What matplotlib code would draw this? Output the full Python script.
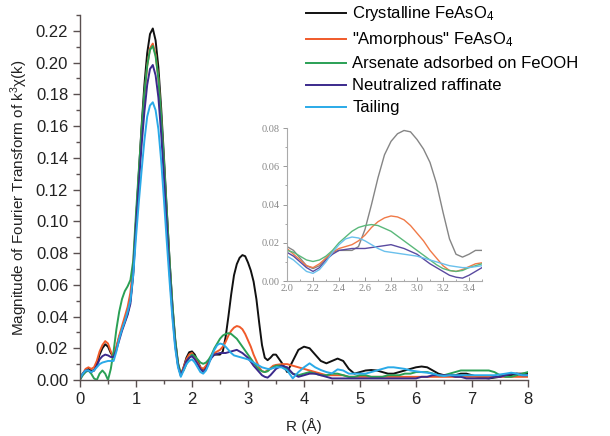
import matplotlib
matplotlib.use("Agg")
import matplotlib.pyplot as plt
from matplotlib.ticker import MultipleLocator, FormatStrFormatter

plt.rcParams['font.family'] = ['Liberation Sans', 'DejaVu Sans']
plt.rcParams['mathtext.default'] = 'regular'

# ---- data ----
R = [0.0, 0.05, 0.1, 0.15, 0.2, 0.25, 0.3, 0.35, 0.4, 0.45,
     0.5, 0.55, 0.6, 0.65, 0.7, 0.75, 0.8, 0.85, 0.9, 0.95,
     1.0, 1.05, 1.1, 1.15, 1.2, 1.25, 1.3, 1.35, 1.4, 1.45,
     1.5, 1.55, 1.6, 1.65, 1.7, 1.75, 1.8, 1.85, 1.9, 1.95,
     2.0, 2.05, 2.1, 2.15, 2.2, 2.25, 2.3, 2.35, 2.4, 2.45,
     2.5, 2.55, 2.6, 2.65, 2.7, 2.75, 2.8, 2.85, 2.9, 2.95,
     3.0, 3.05, 3.1, 3.15, 3.2, 3.25, 3.3, 3.35, 3.4, 3.45,
     3.5, 3.6, 3.7, 3.8, 3.9, 4.0, 4.1, 4.2, 4.3, 4.4,
     4.5, 4.6, 4.7, 4.8, 4.9, 5.0, 5.1, 5.2, 5.3, 5.4,
     5.5, 5.6, 5.7, 5.8, 5.9, 6.0, 6.1, 6.2, 6.3, 6.4,
     6.5, 6.6, 6.7, 6.8, 6.9, 7.0, 7.1, 7.2, 7.3, 7.4,
     7.5, 7.6, 7.7, 7.8, 7.9, 8.0]

crystalline = [0.001, 0.004, 0.006, 0.007, 0.006, 0.006, 0.010, 0.016, 0.020, 0.0225,
               0.021, 0.017, 0.0145, 0.020, 0.027, 0.032, 0.037, 0.042, 0.050, 0.068,
               0.100, 0.130, 0.160, 0.186, 0.206, 0.218, 0.2215, 0.214, 0.197, 0.171,
               0.140, 0.107, 0.075, 0.047, 0.025, 0.010, 0.003, 0.008, 0.014, 0.0175,
               0.018, 0.016, 0.012, 0.008, 0.0065, 0.008, 0.012, 0.015, 0.016, 0.016,
               0.016, 0.018, 0.027, 0.040, 0.054, 0.066, 0.073, 0.077, 0.0787, 0.078,
               0.074, 0.069, 0.062, 0.051, 0.036, 0.022, 0.014, 0.0125, 0.014, 0.016,
               0.016, 0.011, 0.005, 0.012, 0.019, 0.021, 0.020, 0.016, 0.012, 0.0105,
               0.012, 0.0135, 0.012, 0.007, 0.004, 0.005, 0.006, 0.0063, 0.006, 0.005,
               0.004, 0.004, 0.005, 0.006, 0.007, 0.008, 0.0085, 0.008, 0.006, 0.004,
               0.003, 0.003, 0.003, 0.004, 0.004, 0.003, 0.002, 0.0015, 0.001, 0.0015,
               0.002, 0.003, 0.003, 0.004, 0.004, 0.004]

amorphous = [0.001, 0.004, 0.007, 0.008, 0.007, 0.008, 0.012, 0.018, 0.022, 0.0245,
             0.023, 0.018, 0.0145, 0.021, 0.028, 0.034, 0.040, 0.046, 0.055, 0.072,
             0.100, 0.128, 0.155, 0.179, 0.198, 0.209, 0.212, 0.205, 0.190, 0.165,
             0.135, 0.103, 0.072, 0.045, 0.024, 0.010, 0.003, 0.008, 0.013, 0.016,
             0.017, 0.014, 0.011, 0.008, 0.007, 0.009, 0.012, 0.015, 0.017, 0.018,
             0.019, 0.021, 0.024, 0.028, 0.031, 0.033, 0.034, 0.0335, 0.032, 0.029,
             0.025, 0.021, 0.016, 0.012, 0.008, 0.0055, 0.005, 0.006, 0.0075, 0.009,
             0.0095, 0.010, 0.010, 0.009, 0.008, 0.007, 0.006, 0.005, 0.004, 0.003,
             0.003, 0.003, 0.003, 0.002, 0.002, 0.002, 0.002, 0.002, 0.002, 0.002,
             0.002, 0.002, 0.002, 0.002, 0.002, 0.002, 0.002, 0.002, 0.002, 0.002,
             0.002, 0.002, 0.002, 0.002, 0.002, 0.002, 0.002, 0.002, 0.002, 0.002,
             0.002, 0.002, 0.002, 0.002, 0.002, 0.002]

adsorbed = [0.000, 0.003, 0.005, 0.006, 0.004, 0.001, 0.000, 0.004, 0.006, 0.004,
            0.000, 0.007, 0.018, 0.032, 0.043, 0.051, 0.056, 0.059, 0.063, 0.075,
            0.105, 0.132, 0.158, 0.181, 0.198, 0.208, 0.2105, 0.204, 0.190, 0.166,
            0.137, 0.106, 0.075, 0.048, 0.026, 0.011, 0.004, 0.006, 0.010, 0.014,
            0.016, 0.015, 0.013, 0.011, 0.0102, 0.011, 0.013, 0.016, 0.020, 0.023,
            0.026, 0.028, 0.029, 0.0295, 0.029, 0.0275, 0.026, 0.0235, 0.021, 0.0185,
            0.016, 0.0135, 0.011, 0.0085, 0.0065, 0.0055, 0.005, 0.0055, 0.007, 0.008,
            0.009, 0.009, 0.007, 0.004, 0.003, 0.004, 0.005, 0.004, 0.003, 0.003,
            0.004, 0.004, 0.003, 0.002, 0.002, 0.003, 0.003, 0.002, 0.002, 0.002,
            0.003, 0.003, 0.003, 0.004, 0.004, 0.005, 0.005, 0.005, 0.004, 0.003,
            0.003, 0.004, 0.005, 0.006, 0.006, 0.006, 0.006, 0.006, 0.006, 0.005,
            0.003, 0.002, 0.002, 0.003, 0.004, 0.005]

raffinate = [0.001, 0.004, 0.006, 0.006, 0.005, 0.006, 0.009, 0.013, 0.015, 0.016,
             0.0155, 0.0145, 0.0145, 0.019, 0.025, 0.031, 0.036, 0.041, 0.048, 0.066,
             0.097, 0.123, 0.148, 0.169, 0.186, 0.196, 0.1985, 0.192, 0.178, 0.155,
             0.127, 0.097, 0.068, 0.042, 0.022, 0.009, 0.003, 0.007, 0.012, 0.014,
             0.015, 0.013, 0.010, 0.007, 0.005, 0.007, 0.011, 0.014, 0.016, 0.0165,
             0.017, 0.017, 0.017, 0.0175, 0.018, 0.0185, 0.019, 0.018, 0.017, 0.0155,
             0.014, 0.0115, 0.009, 0.007, 0.005, 0.003, 0.002, 0.0015, 0.003, 0.005,
             0.007, 0.009, 0.008, 0.004, 0.002, 0.003, 0.004, 0.004, 0.003, 0.002,
             0.001, 0.001, 0.001, 0.001, 0.001, 0.001, 0.001, 0.001, 0.001, 0.001,
             0.001, 0.001, 0.001, 0.001, 0.001, 0.001, 0.002, 0.002, 0.003, 0.003,
             0.003, 0.003, 0.002, 0.002, 0.001, 0.001, 0.001, 0.001, 0.001, 0.002,
             0.002, 0.003, 0.004, 0.004, 0.003, 0.003]

tailing = [0.001, 0.004, 0.006, 0.006, 0.005, 0.006, 0.008, 0.010, 0.011, 0.0115,
           0.012, 0.012, 0.012, 0.018, 0.026, 0.032, 0.037, 0.043, 0.050, 0.066,
           0.090, 0.112, 0.132, 0.151, 0.166, 0.173, 0.175, 0.170, 0.158, 0.138,
           0.113, 0.087, 0.062, 0.039, 0.020, 0.008, 0.002, 0.006, 0.010, 0.012,
           0.013, 0.011, 0.008, 0.005, 0.004, 0.006, 0.010, 0.015, 0.019, 0.022,
           0.023, 0.0225, 0.021, 0.019, 0.017, 0.0155, 0.015, 0.0145, 0.014, 0.0135,
           0.013, 0.012, 0.011, 0.010, 0.009, 0.008, 0.0075, 0.007, 0.007, 0.0075,
           0.008, 0.008, 0.006, 0.001, 0.005, 0.008, 0.0105, 0.008, 0.0063, 0.005,
           0.0042, 0.0067, 0.006, 0.004, 0.004, 0.004, 0.004, 0.005, 0.006, 0.007,
           0.008, 0.008, 0.0075, 0.007, 0.006, 0.0055, 0.005, 0.0046, 0.004, 0.003,
           0.0025, 0.003, 0.003, 0.003, 0.003, 0.003, 0.003, 0.003, 0.003, 0.003,
           0.0035, 0.004, 0.0046, 0.004, 0.003, 0.003]

labels = ['Crystalline FeAsO$_4$', '"Amorphous" FeAsO$_4$',
          'Arsenate adsorbed on FeOOH', 'Neutralized raffinate', 'Tailing']
series = [crystalline, amorphous, adsorbed, raffinate, tailing]
colors = ['#111111', '#f05a2a', '#2aa055', '#3b2a8c', '#2aaae8']
inset_colors = ['#858585', '#f07a48', '#5ab87a', '#5a4aa0', '#6ac0ec']

spine_col = '#5a5050'

fig = plt.figure(figsize=(6.10, 4.36), dpi=100)
ax = fig.add_axes([80/610, 56/436, 448/610, 365/436])
for y, c, lab in zip(series, colors, labels):
    ax.plot(R, y, color=c, lw=1.4, label=lab)

ax.set_xlim(0, 8)
ax.set_ylim(0, 0.23)
ax.xaxis.set_major_locator(MultipleLocator(1))
ax.xaxis.set_minor_locator(MultipleLocator(0.5))
ax.yaxis.set_major_locator(MultipleLocator(0.02))
ax.yaxis.set_minor_locator(MultipleLocator(0.01))
ax.yaxis.set_major_formatter(FormatStrFormatter('%.2f'))
for s in ['top', 'right']:
    ax.spines[s].set_visible(False)
for s in ['left', 'bottom']:
    ax.spines[s].set_color(spine_col)
    ax.spines[s].set_linewidth(1.0)
ax.tick_params(which='major', direction='out', length=5, width=1.0,
               color=spine_col, labelsize=12, labelcolor='#222222')
ax.tick_params(which='minor', direction='out', length=3, width=1.0, color=spine_col)
ax.set_xlabel('R (Å)', fontsize=11, color='#222222', labelpad=8)
ax.set_ylabel('Magnitude of Fourier Transform of k$^3$χ(k)', fontsize=11,
              color='#222222', labelpad=4)

leg = ax.legend(loc='upper left', bbox_to_anchor=(299/610, 1.005),
                bbox_transform=fig.transFigure, frameon=False, fontsize=12,
                handlelength=2.4, handletextpad=0.4, labelspacing=0.42,
                borderaxespad=0)

# ---- inset ----
ins = fig.add_axes([287/610, 155/436, 195/610, 153/436])
ins.patch.set_alpha(0)
for y, c in zip(series, inset_colors):
    ins.plot(R, y, color=c, lw=1.0)
ins.set_xlim(2.0, 3.5)
ins.set_ylim(0, 0.08)
ins.xaxis.set_major_locator(MultipleLocator(0.2))
ins.xaxis.set_minor_locator(MultipleLocator(0.1))
ins.yaxis.set_major_locator(MultipleLocator(0.02))
ins.yaxis.set_minor_locator(MultipleLocator(0.01))
ins.xaxis.set_major_formatter(FormatStrFormatter('%.1f'))
ins.yaxis.set_major_formatter(FormatStrFormatter('%.2f'))
for s in ['top', 'right']:
    ins.spines[s].set_visible(False)
for s in ['left', 'bottom']:
    ins.spines[s].set_color('#aaaaaa')
    ins.spines[s].set_linewidth(0.8)
ins.tick_params(which='major', length=3, width=0.7, color='#999999',
                labelsize=7.5, labelcolor='#888888', pad=2)
ins.tick_params(axis='x', which='both', direction='in')
ins.tick_params(axis='y', which='both', direction='out')
ins.tick_params(which='minor', length=1.5, width=0.6, color='#999999')
for t in ins.get_xticklabels() + ins.get_yticklabels():
    t.set_fontfamily(['Liberation Serif', 'DejaVu Serif'])

fig.savefig('out.png', dpi=100)
